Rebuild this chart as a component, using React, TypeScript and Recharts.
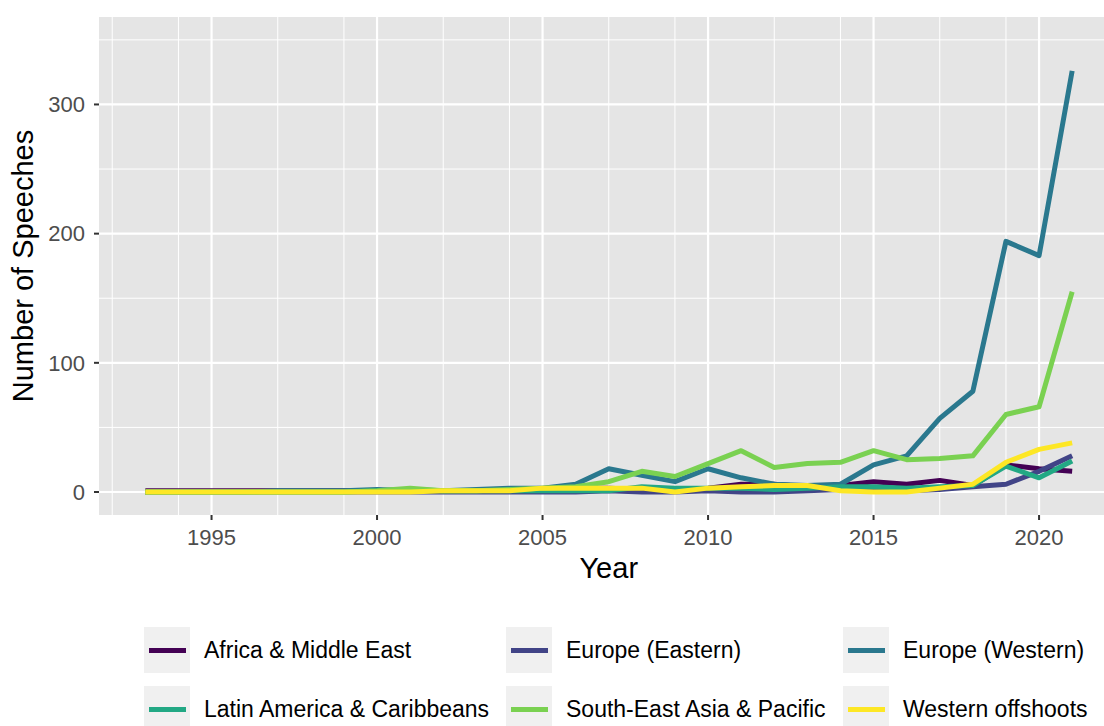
import { CartesianGrid, Label, Line, LineChart, XAxis, YAxis } from "recharts";

const years = [
  1993, 1994, 1995, 1996, 1997, 1998, 1999, 2000, 2001, 2002, 2003, 2004, 2005,
  2006, 2007, 2008, 2009, 2010, 2011, 2012, 2013, 2014, 2015, 2016, 2017, 2018,
  2019, 2020, 2021,
];

const africa = [
  1, 1, 1, 1, 1, 1, 1, 1, 1, 1, 1, 2, 2, 3, 3, 2, 2, 3, 6, 6, 4, 5, 8, 6, 9, 5,
  21, 18, 16,
];
const europeEastern = [
  0, 0, 0, 0, 0, 0, 0, 0, 0, 0, 0, 0, 0, 0, 1, 0, 0, 1, 0, 0, 1, 2, 2, 1, 2, 4,
  6, 16, 28,
];
const europeWestern = [
  0, 0, 0, 0, 1, 1, 1, 2, 1, 1, 2, 3, 3, 6, 18, 13, 8, 18, 11, 6, 5, 6, 21, 28,
  57, 78, 194, 183, 326,
];
const latinAmerica = [
  0, 0, 0, 0, 0, 0, 0, 1, 2, 1, 1, 1, 1, 1, 1, 4, 3, 3, 3, 2, 3, 4, 4, 3, 4, 5,
  20, 11, 24,
];
const seAsia = [
  0, 0, 0, 0, 0, 0, 0, 1, 3, 1, 1, 2, 3, 4, 8, 16, 12, 22, 32, 19, 22, 23, 32,
  25, 26, 28, 60, 66, 155,
];
const westernOffshoots = [
  0, 0, 0, 0, 0, 0, 0, 0, 0, 1, 1, 1, 3, 3, 3, 3, 0, 3, 4, 5, 5, 1, 0, 0, 3, 6,
  23, 33, 38,
];

const xTicks = [1995, 2000, 2005, 2010, 2015, 2020];
const yTicks = [0, 100, 200, 300];
const yMinor = [50, 150, 250, 350];
const xMinor = [
  1992, 1993, 1994, 1996, 1997, 1998, 1999, 2001, 2002, 2003, 2004, 2006, 2007,
  2008, 2009, 2011, 2012, 2013, 2014, 2016, 2017, 2018, 2019, 2021, 2022,
];

const series = [
  { key: "africa", name: "Africa & Middle East", color: "#440154" },
  { key: "europeEastern", name: "Europe (Eastern)", color: "#414487" },
  { key: "europeWestern", name: "Europe (Western)", color: "#2A788E" },
  { key: "latinAmerica", name: "Latin America & Caribbeans", color: "#22A884" },
  { key: "seAsia", name: "South-East Asia & Pacific", color: "#7AD151" },
  { key: "westernOffshoots", name: "Western offshoots", color: "#FDE725" },
];

const data = years.map((year, i) => ({
  year,
  africa: africa[i],
  europeEastern: europeEastern[i],
  europeWestern: europeWestern[i],
  latinAmerica: latinAmerica[i],
  seAsia: seAsia[i],
  westernOffshoots: westernOffshoots[i],
}));

const font = "'Liberation Sans', Arial, Helvetica, sans-serif";

const legendCols = [144, 506, 843];
const legendRows = [627, 686];

function ChartLegend() {
  return (
    <>
      {series.map((s, i) => {
        const left = legendCols[i % 3];
        const top = legendRows[Math.floor(i / 3)];
        return (
          <div
            key={s.key}
            style={{
              position: "absolute",
              left,
              top,
              height: 46,
              display: "flex",
              alignItems: "center",
              fontFamily: font,
              fontSize: 23,
              color: "#000",
              whiteSpace: "nowrap",
            }}
          >
            <div
              style={{
                width: 46,
                height: 46,
                background: "#F0F0F0",
                display: "flex",
                alignItems: "center",
                justifyContent: "center",
              }}
            >
              <div style={{ width: 37, height: 5, background: s.color }} />
            </div>
            <span style={{ marginLeft: 14 }}>{s.name}</span>
          </div>
        );
      })}
    </>
  );
}

export default function App() {
  return (
    <div
      style={{
        position: "absolute",
        left: 0,
        top: 0,
        width: 1104,
        height: 726,
        overflow: "hidden",
        background: "#fff",
      }}
    >
      <LineChart
        width={1120}
        height={726}
        data={data}
        margin={{ top: 17, right: 1.5, bottom: 141, left: 0 }}
      >
        <CartesianGrid
          fill="#E5E5E5"
          fillOpacity={1}
          stroke="#FFFFFF"
          strokeWidth={1}
          horizontalValues={yMinor}
          verticalValues={xMinor}
        />
        <CartesianGrid
          fill="none"
          stroke="#FFFFFF"
          strokeWidth={2.2}
          horizontalValues={yTicks}
          verticalValues={xTicks}
        />
        <XAxis
          dataKey="year"
          type="number"
          domain={[1991.6, 2022.4]}
          allowDataOverflow
          ticks={xTicks}
          height={70}
          axisLine={false}
          tickSize={5}
          tickMargin={9}
          tickLine={{ stroke: "#333333", strokeWidth: 2 }}
          tick={{ fill: "#4D4D4D", fontSize: 22, fontFamily: font }}
        >
          <Label
            value="Year"
            position="insideBottom"
            offset={7}
            style={{ fill: "#000", fontSize: 29, fontFamily: font }}
          />
        </XAxis>
        <YAxis
          type="number"
          domain={[-17.8, 367.7]}
          allowDataOverflow
          ticks={yTicks}
          width={99}
          axisLine={false}
          tickSize={5}
          tickMargin={9}
          tickLine={{ stroke: "#333333", strokeWidth: 2 }}
          tick={{ fill: "#4D4D4D", fontSize: 22, fontFamily: font }}
        >
          <Label
            value="Number of Speeches"
            angle={-90}
            position="insideLeft"
            offset={23}
            style={{
              fill: "#000",
              fontSize: 29,
              fontFamily: font,
              textAnchor: "middle",
            }}
          />
        </YAxis>
        {series.map((s) => (
          <Line
            key={s.key}
            dataKey={s.key}
            name={s.name}
            type="linear"
            stroke={s.color}
            strokeWidth={5}
            strokeLinejoin="round"
            strokeLinecap="butt"
            dot={false}
            activeDot={false}
            isAnimationActive={false}
          />
        ))}
      </LineChart>
      <ChartLegend />
    </div>
  );
}
